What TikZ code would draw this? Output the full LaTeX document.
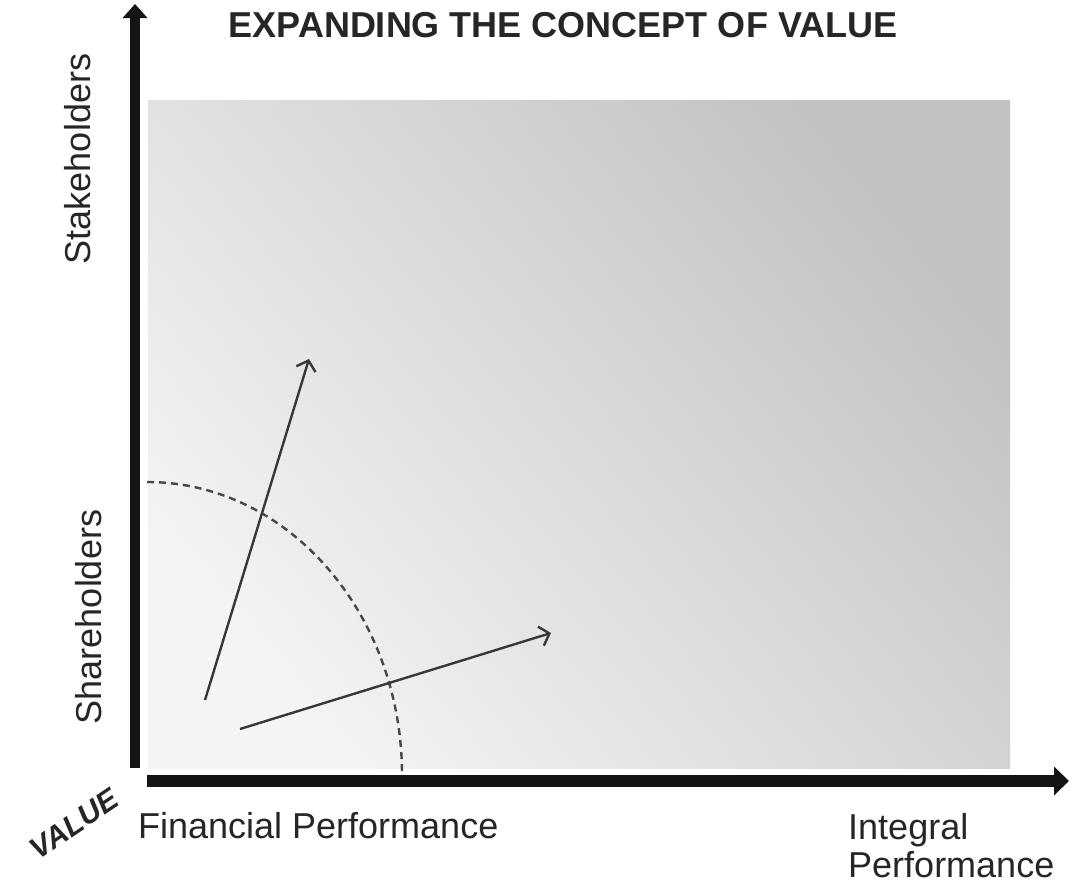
\documentclass[tikz,border=0pt]{standalone}
\usepackage{fontspec}
\setmainfont{Liberation Sans}
\usetikzlibrary{arrows.meta, positioning, calc}
\tikzset{
x=1pt, y=-1pt, % one unit is one pixel of the layout, y runs down
axis/.style={line width=10pt, black!92, -{Triangle[width=24pt,length=14pt]}}, % the two heavy axes
push/.style={line width=2.4pt, black!78, -{Straight Barb[length=9pt,width=20pt,line width=2.4pt]}}, % thin shift arrows
boundary/.style={line width=2.4pt, black!72, dash pattern=on 7pt off 5pt}, % the dashed arc
caption/.style={font=\fontsize{36}{38}\selectfont, text=black!85, inner sep=0pt}, % axis texts
}
\begin{document}
\begin{tikzpicture}
    \useasboundingbox (0,0) rectangle (1084,889);
    \shade[bottom color=gray!9, middle color=gray!20, top color=gray!48, shading angle=-50] (148,100) rectangle (1010,768);
    % axes
    \coordinate (ybot) at (135,768);
    \coordinate (ytop) at (135,4);
    \coordinate (xleft) at (147,781);
    \coordinate (xright) at (1069,781);
    \draw[axis] (ybot) -- (ytop);
    \draw[axis, line width=12pt, -{Triangle[width=28pt,length=15pt]}] (xleft) -- (xright);
    % dashed boundary and arrows
    \coordinate (arcstart) at (147,482);
    \draw[boundary] (arcstart) arc[start angle=-90, end angle=0, x radius=255, y radius=293];
    \coordinate (upfrom) at (205,700);
    \coordinate (upto) at (309,359);
    \coordinate (outfrom) at (240,729);
    \coordinate (outto) at (551,633);
    \draw[push] (upfrom) -- (upto);
    \draw[push] (outfrom) -- (outto);
    % texts
    \node[caption, font=\bfseries\fontsize{36}{38}\selectfont, anchor=base] (title) at (563,37) {EXPANDING THE CONCEPT OF VALUE};
    \node[caption, rotate=90] (stake) at (78,159) {Stakeholders};
    \node[caption, rotate=90] (share) at (89,617) {Shareholders};
    \node[caption, font=\bfseries\itshape\fontsize{30}{32}\selectfont, rotate=34] (value) at (74,824) {VALUE};
    \node[caption, anchor=base west] (financial) at (138,838) {Financial Performance};
    \node[caption, anchor=north west, align=left] (integral) at (848,813) {Integral\\Performance};
\end{tikzpicture}
\end{document}
